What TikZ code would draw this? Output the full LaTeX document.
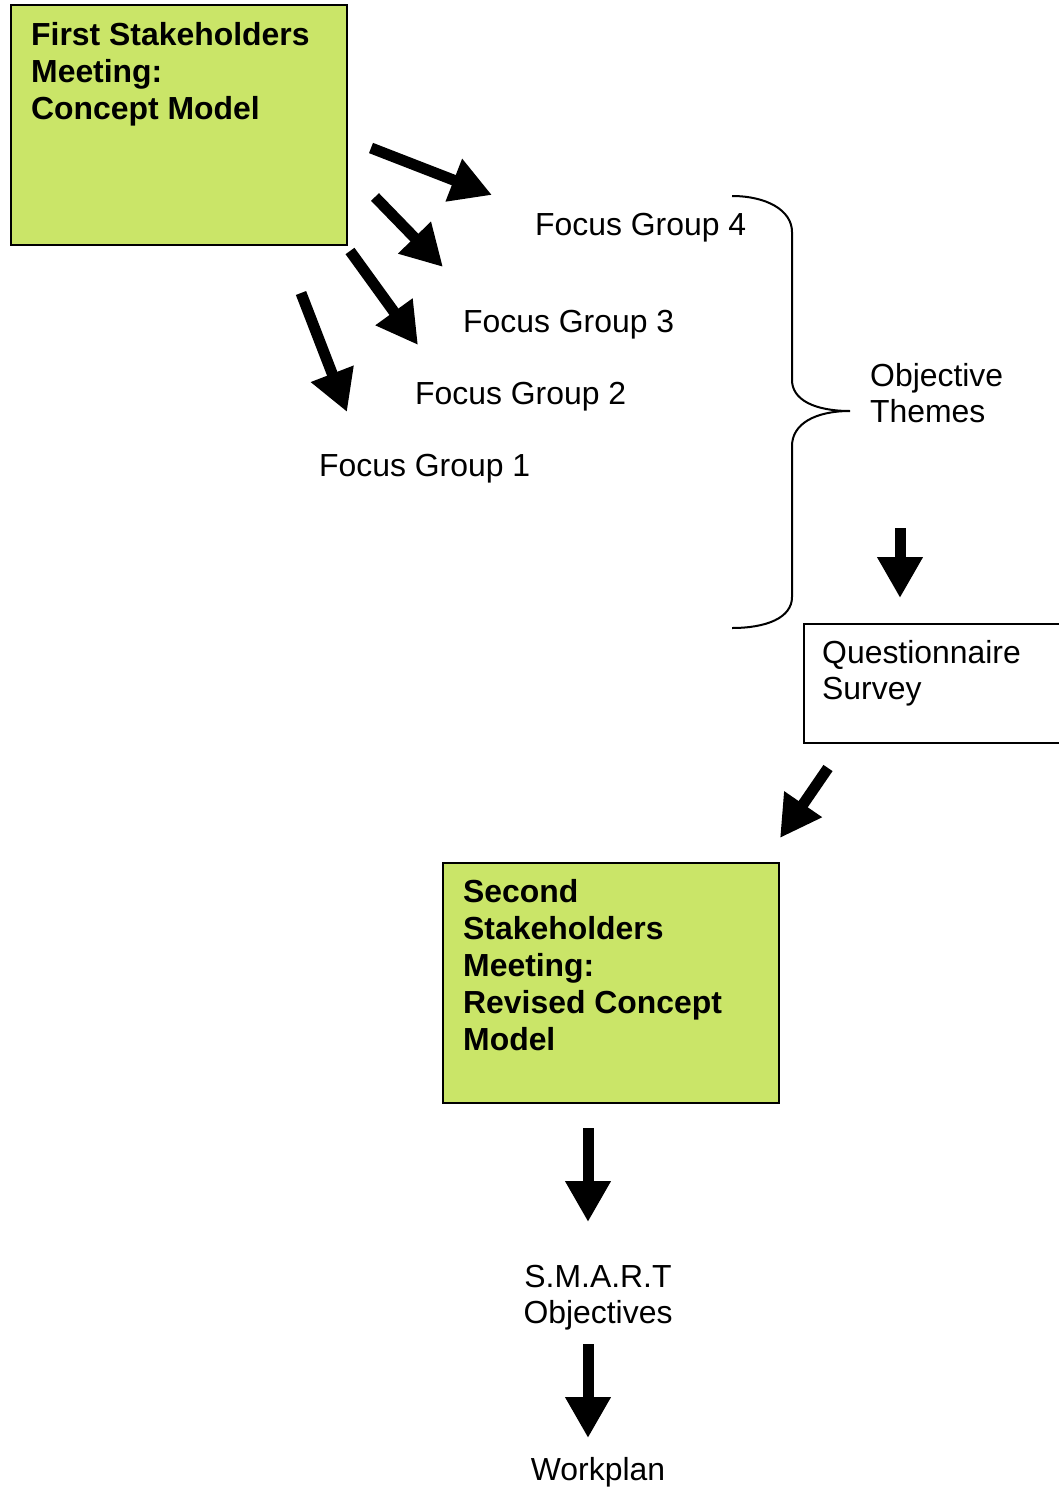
\documentclass[tikz,border=0pt]{standalone}
\usepackage{fontspec}
\setmainfont{Liberation Sans}
\usetikzlibrary{arrows.meta}
\definecolor{limefill}{RGB}{202,229,104}

\begin{document}
\begin{tikzpicture}[x=1pt,y=-1pt,
  greenbox/.style = {rectangle,draw=black,line width=1.6pt,fill=limefill,anchor=north west,minimum width=336pt,minimum height=240pt,outer sep=0mm},
  plainbox/.style = {rectangle,draw=black,line width=1.6pt,anchor=north west,minimum width=270pt,minimum height=119pt,outer sep=0mm},
  txt/.style = {inner sep=0pt,align=left,font=\fontsize{31.9}{36.5}\selectfont},
  boldtxt/.style = {inner sep=0pt,align=left,font=\fontsize{31.9}{37}\selectfont\bfseries},
  fat/.style = {line width=11pt,-{Triangle[length=41pt,width=43pt]}},
  brace/.style = {draw=black,line width=2pt}]
\useasboundingbox (0,0) rectangle (1059,1488);
\clip (0,0) rectangle (1059,1488);
% boxes
\node[greenbox] (first) at (11,5) {};
\node[boldtxt,anchor=north west] (firstTxt) at (31,22) {First Stakeholders\\Meeting:\\Concept Model};
\node[greenbox] (second) at (443,863) {};
\node[boldtxt,anchor=north west] (secondTxt) at (463,879) {Second\\Stakeholders\\Meeting:\\Revised Concept\\Model};
\node[plainbox] (quest) at (804,624) {};
\node[txt,anchor=north west] (questTxt) at (822,640) {Questionnaire\\Survey};
% focus groups
\foreach \g/\x/\y in {4/535/235, 3/463/332, 2/415/404, 1/319/476}
    \node[txt,anchor=base west] (fg\g) at (\x,\y) {Focus Group \g};
\node[txt,anchor=north west] (themes) at (870,363) {Objective\\Themes};
\node[txt,align=center,anchor=north] (smart) at (598,1265) {S.M.A.R.T\\Objectives};
\node[txt,anchor=base] (plan) at (598,1480) {Workplan};
% arrow ends
\coordinate (a4s) at (371,148);  \coordinate (a4e) at (492,195);
\coordinate (a3s) at (375,197);  \coordinate (a3e) at (443,267);
\coordinate (a2s) at (350,251);  \coordinate (a2e) at (418,345);
\coordinate (a1s) at (301,293);  \coordinate (a1e) at (347,412);
\coordinate (qs) at (900,528);   \coordinate (qe) at (900,598);
\coordinate (ss) at (828,768);   \coordinate (se) at (780,838);
\coordinate (os) at (588,1128);  \coordinate (oe) at (588,1222);
\coordinate (ws) at (588,1344);  \coordinate (we) at (588,1438);
\foreach \s/\e in {a4s/a4e, a3s/a3e, a2s/a2e, a1s/a1e, qs/qe, ss/se, os/oe, ws/we}
    \draw[fat] (\s) -- (\e);
% brace
\draw[brace] (732,196) .. controls (766,196) and (792,210) .. (792,232) -- (792,380)
    .. controls (792,400) and (815,411) .. (850,411)
    .. controls (815,411) and (792,424) .. (792,446) -- (792,597)
    .. controls (792,618) and (766,628) .. (732,628);
\end{tikzpicture}
\end{document}
